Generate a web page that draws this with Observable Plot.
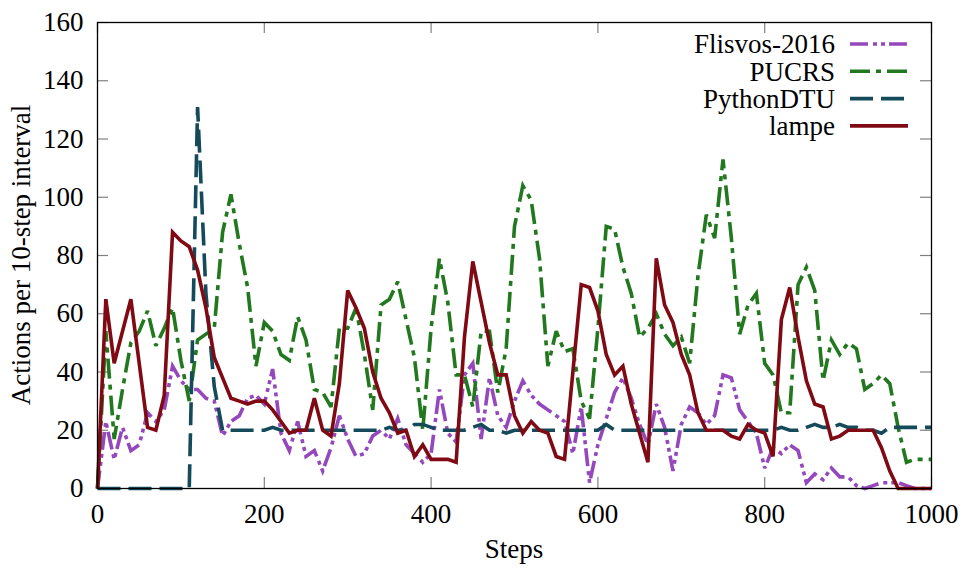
<!DOCTYPE html>
<html><head><meta charset="utf-8">
<script src="https://cdn.jsdelivr.net/npm/d3@7"></script>
<script src="https://cdn.jsdelivr.net/npm/@observablehq/plot@0.6"></script>
<style>
body{margin:0;background:#fff}
#chart{width:961px;height:570px}
#chart svg, #chart svg text { font-family: "Liberation Serif", "DejaVu Serif", "Noto Serif", "Times New Roman", Times, serif !important; }
</style>
</head><body><div id="chart"></div>
<script>
const steps = d3.range(0, 1001, 10);
const xTicks = [0, 200, 400, 600, 800, 1000];
const yTicks = [0, 20, 40, 60, 80, 100, 120, 140, 160];
const seriesNames = ["Flisvos-2016", "PUCRS", "PythonDTU", "lampe"];

const flisvos = [0,23,10,21,13,15,26,23,27,42, 37,34,34,31,30,18,23,25,31,32,
  29,41,19,13,23,11,13,6,14,25, 17,11,12,18,20,17,24,15,12,9,
  12,34,19,16,39,43,17,38,25,21, 30,37,32,29,27,25,23,12,28,2,
  15,24,33,38,31,22,15,29,21,6, 22,28,26,22,25,39,38,27,23,19,
  7,14,12,15,13,2,5,3,7,4, 4,1,0,1,2,2,2,1,0,0, 0];
const pucrs = [0,54,17,34,50,54,61,49,55,62, 44,30,51,53,55,88,101,84,69,42,
  57,54,46,44,59,51,34,33,28,55, 55,62,46,27,63,65,71,58,45,20,
  55,79,64,39,39,28,54,54,33,48, 90,104,99,79,42,54,47,48,30,24,
  55,90,89,76,67,52,55,60,53,49, 52,43,73,94,86,113,86,53,63,67,
  43,39,26,26,70,76,68,37,51,46, 50,48,34,36,39,36,21,9,10,10, 10];
const pythonDTU = [0,0,0,0,0,0,0,0,0,0, 0,0,131,67,35,20,20,20,20,20,
  20,21,20,20,20,20,20,20,20,20, 20,20,20,20,20,21,20,20,22,22,
  21,20,20,20,20,21,22,20,20,19, 20,20,20,20,20,20,20,20,20,20,
  20,22,20,20,20,20,20,20,20,20, 20,20,20,20,20,20,20,20,20,20,
  20,20,21,20,20,21,22,21,21,22, 21,21,20,20,19,21,21,21,21,21, 21];
const lampe = [0,65,43,54,65,43,21,20,32,88, 85,83,75,62,45,38,31,30,29,30,
  30,27,23,19,20,20,31,20,18,36, 68,62,55,40,31,26,19,20,11,15,
  10,10,10,9,52,78,64,50,39,39, 25,19,23,20,19,11,10,40,70,69,
  61,46,39,42,29,19,9,79,63,57, 46,39,26,20,20,20,18,17,22,20,
  19,11,58,69,52,37,29,28,17,18, 20,20,20,20,14,6,0,0,0,0, 0];

const seriesValues = [flisvos, pucrs, pythonDTU, lampe];
const colors = ["#9448bc", "#22781e", "#144a5a", "#800a14"];
const dashes = ["18,5,4,4,4,4", "20,6,5,6", "23,8", null];

const rows = seriesNames.flatMap((name, k) =>
  seriesValues[k].map((v, i) => ({step: steps[i], value: v, name})));

const W = 961, H = 570, ML = 97, MR = 30, MT = 22, MB = 82;
const innerW = W - ML - MR, innerH = H - MT - MB, tickLen = 11;
const font = '"Liberation Serif", "DejaVu Serif", "Noto Serif", "Times New Roman", Times, serif';

const lineMarks = seriesNames.map((name, k) =>
  Plot.line(rows.filter(d => d.name === name), {
    x: "step", y: "value", stroke: colors[k], strokeWidth: 3.6,
    strokeDasharray: dashes[k] ?? undefined, strokeLinecap: "butt", strokeLinejoin: "miter", strokeMiterlimit: 3
  }));

const plot = Plot.plot({
  width: W, height: H, marginLeft: ML, marginRight: MR, marginTop: MT, marginBottom: MB,
  style: {fontFamily: font, fontSize: "27px", background: "white", color: "black"},
  x: {domain: [0, 1000], label: null},
  y: {domain: [0, 160], label: null},
  marks: [
    Plot.tickX(xTicks, {x: d => d, insetTop: innerH - tickLen, stroke: "#808080", strokeWidth: 1.2}),
    Plot.tickX(xTicks, {x: d => d, insetBottom: innerH - tickLen, stroke: "#808080", strokeWidth: 1.2}),
    Plot.tickY(yTicks, {y: d => d, insetRight: innerW - tickLen, stroke: "#808080", strokeWidth: 1.2}),
    Plot.tickY(yTicks, {y: d => d, insetLeft: innerW - tickLen, stroke: "#808080", strokeWidth: 1.2}),
    Plot.axisX(xTicks, {anchor: "bottom", tickSize: 0, tickPadding: 15, label: null, fontSize: 27, tickFormat: d3.format("d")}),
    Plot.axisY(yTicks, {anchor: "left", tickSize: 0, tickPadding: 14, label: null, fontSize: 27, tickFormat: d3.format("d")}),
    ...lineMarks,
    Plot.frame({stroke: "black", strokeWidth: 1.3})
  ]
});

const svg = d3.select(plot);
svg.append("text").attr("x", ML + innerW / 2).attr("y", 558)
  .attr("text-anchor", "middle").attr("font-size", 27).attr("font-family", font).text("Steps");
svg.append("text").attr("transform", `translate(30,${MT + innerH / 2}) rotate(-90)`)
  .attr("text-anchor", "middle").attr("font-size", 27).attr("font-family", font)
  .text("Actions per 10-step interval");
const lg = svg.append("g");
seriesNames.forEach((name, k) => {
  const y = 44 + k * 27.3;
  lg.append("text").attr("x", 835).attr("y", y).attr("dy", "0.35em")
    .attr("text-anchor", "end").attr("font-size", 27).attr("font-family", font).text(name);
  lg.append("line").attr("x1", 850).attr("x2", 908).attr("y1", y).attr("y2", y)
    .attr("stroke", colors[k]).attr("stroke-width", 3.6)
    .attr("stroke-dasharray", dashes[k]).attr("stroke-linecap", "butt");
});
document.getElementById("chart").appendChild(plot);
</script>
</body></html>
